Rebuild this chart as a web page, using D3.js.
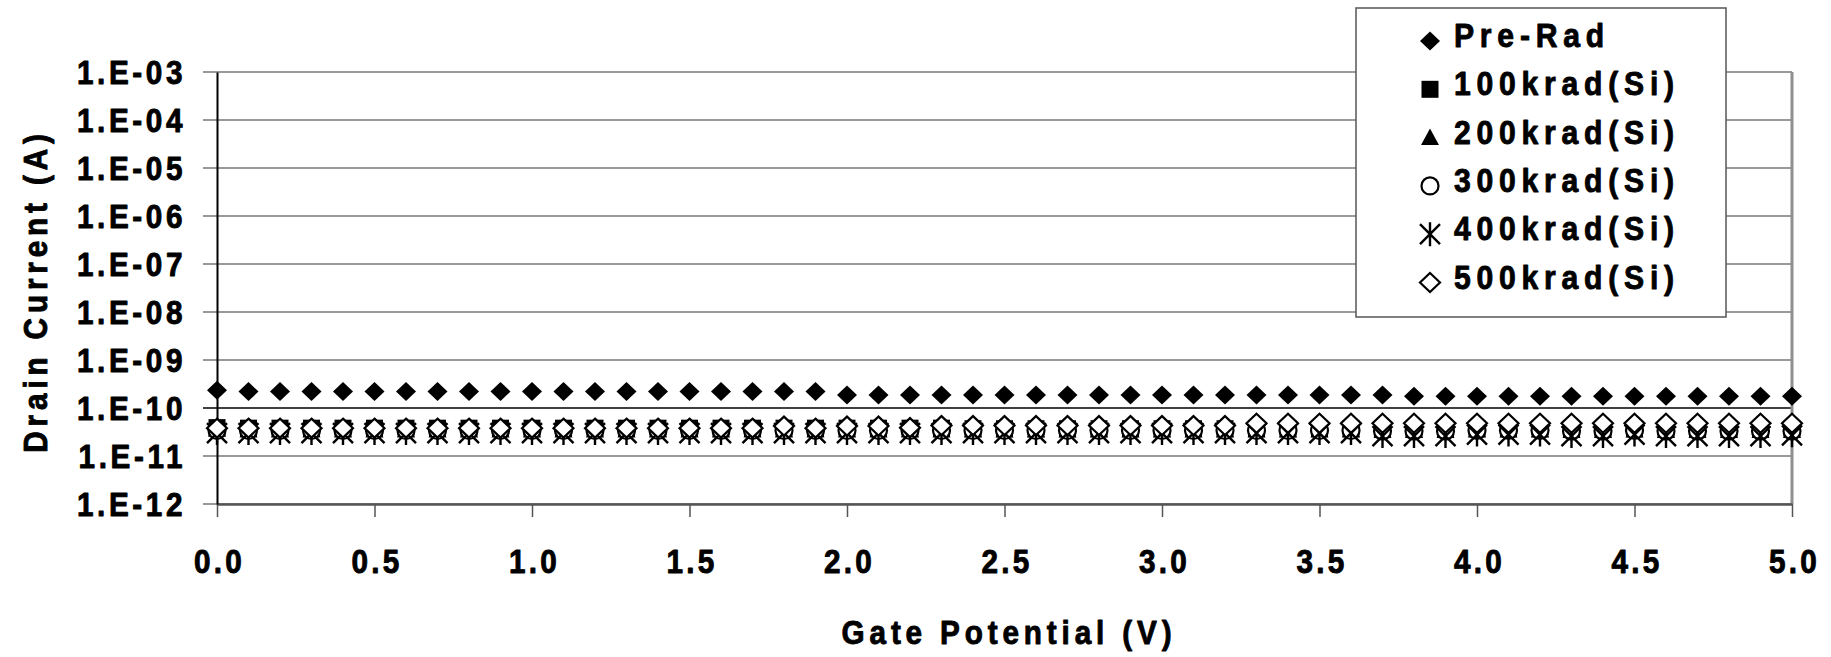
<!DOCTYPE html>
<html>
<head>
<meta charset="utf-8">
<script src="https://cdn.jsdelivr.net/npm/d3@7"></script>
<style>
  body { margin: 0; background: #fff; }
  svg { display: block; font-family: "Liberation Sans", Arial, sans-serif; font-weight: bold; }
  svg text { fill: #000; stroke: #000; stroke-width: 0.9px; stroke-linejoin: round; }
</style>
</head>
<body>
<svg id="chart" width="1831" height="657"></svg>
<script>
// gate voltage sweep (V)
const gateV = [0.0, 0.1, 0.2, 0.3, 0.4, 0.5, 0.6, 0.7, 0.8, 0.9,
  1.0, 1.1, 1.2, 1.3, 1.4, 1.5, 1.6, 1.7, 1.8, 1.9,
  2.0, 2.1, 2.2, 2.3, 2.4, 2.5, 2.6, 2.7, 2.8, 2.9,
  3.0, 3.1, 3.2, 3.3, 3.4, 3.5, 3.6, 3.7, 3.8, 3.9,
  4.0, 4.1, 4.2, 4.3, 4.4, 4.5, 4.6, 4.7, 4.8, 4.9, 5.0];

// drain current (A) per dose
const preRad = [2.35e-10,
  2.2e-10, 2.2e-10, 2.2e-10, 2.2e-10, 2.2e-10, 2.2e-10, 2.2e-10, 2.2e-10, 2.2e-10,
  2.2e-10, 2.2e-10, 2.2e-10, 2.2e-10, 2.2e-10, 2.2e-10, 2.2e-10, 2.2e-10, 2.2e-10, 2.2e-10,
  1.87e-10, 1.87e-10, 1.87e-10, 1.87e-10, 1.87e-10, 1.87e-10, 1.87e-10, 1.87e-10, 1.87e-10, 1.87e-10,
  1.87e-10, 1.87e-10, 1.87e-10, 1.87e-10, 1.87e-10, 1.87e-10, 1.87e-10, 1.87e-10,
  1.75e-10, 1.75e-10, 1.75e-10, 1.75e-10, 1.75e-10, 1.75e-10, 1.75e-10, 1.75e-10, 1.75e-10, 1.75e-10,
  1.75e-10, 1.75e-10, 1.75e-10];
const krad100 = [3.9e-11, 3.8e-11, 3.8e-11, 3.8e-11, 3.8e-11, 3.8e-11, 3.8e-11, 3.8e-11, 3.8e-11, 3.8e-11,
  3.8e-11, 3.8e-11, 3.8e-11, 3.8e-11, 3.8e-11, 3.8e-11, 3.8e-11, 3.8e-11, 3.8e-11, 3.8e-11,
  3.8e-11, 3.8e-11, 3.8e-11, 3.8e-11, 3.7e-11, 3.7e-11, 3.7e-11, 3.7e-11, 3.7e-11, 3.7e-11,
  3.7e-11, 3.7e-11, 3.7e-11, 3.7e-11, 3.7e-11, 3.7e-11, 3.7e-11, 3.6e-11, 3.6e-11, 3.6e-11,
  3.7e-11, 3.7e-11, 3.7e-11, 3.6e-11, 3.6e-11, 3.7e-11, 3.6e-11, 3.6e-11, 3.6e-11, 3.6e-11, 3.6e-11];
const krad200 = [3.6e-11, 3.5e-11, 3.5e-11, 3.5e-11, 3.5e-11, 3.5e-11, 3.5e-11, 3.5e-11, 3.5e-11, 3.5e-11,
  3.5e-11, 3.5e-11, 3.5e-11, 3.5e-11, 3.5e-11, 3.5e-11, 3.5e-11, 3.5e-11, 3.5e-11, 3.5e-11,
  3.5e-11, 3.5e-11, 3.5e-11, 3.5e-11, 3.5e-11, 3.5e-11, 3.5e-11, 3.5e-11, 3.5e-11, 3.5e-11,
  3.5e-11, 3.5e-11, 3.5e-11, 3.5e-11, 3.5e-11, 3.5e-11, 3.5e-11, 3.4e-11, 3.4e-11, 3.4e-11,
  3.5e-11, 3.5e-11, 3.5e-11, 3.4e-11, 3.4e-11, 3.5e-11, 3.4e-11, 3.4e-11, 3.4e-11, 3.4e-11, 3.4e-11];
const krad300 = [3.4e-11, 3.4e-11, 3.4e-11, 3.4e-11, 3.4e-11, 3.4e-11, 3.4e-11, 3.4e-11, 3.4e-11, 3.4e-11,
  3.4e-11, 3.4e-11, 3.4e-11, 3.4e-11, 3.4e-11, 3.4e-11, 3.4e-11, 3.4e-11, 3.4e-11, 3.4e-11,
  3.4e-11, 3.4e-11, 3.4e-11, 3.4e-11, 3.4e-11, 3.4e-11, 3.4e-11, 3.4e-11, 3.4e-11, 3.4e-11,
  3.4e-11, 3.4e-11, 3.4e-11, 3.4e-11, 3.4e-11, 3.4e-11, 3.4e-11, 3.3e-11, 3.3e-11, 3.3e-11,
  3.4e-11, 3.4e-11, 3.4e-11, 3.3e-11, 3.3e-11, 3.4e-11, 3.3e-11, 3.3e-11, 3.3e-11, 3.3e-11, 3.3e-11];
const krad400 = [3.0e-11, 3.0e-11, 3.0e-11, 3.0e-11, 3.0e-11, 3.0e-11, 3.0e-11, 3.0e-11, 3.0e-11, 3.0e-11,
  3.0e-11, 3.0e-11, 3.0e-11, 3.0e-11, 3.0e-11, 3.0e-11, 3.0e-11, 3.0e-11, 3.0e-11, 3.0e-11,
  3.0e-11, 3.0e-11, 3.0e-11, 3.0e-11, 3.0e-11, 3.0e-11, 3.0e-11, 3.0e-11, 3.0e-11, 3.0e-11,
  3.0e-11, 3.0e-11, 3.0e-11, 3.0e-11, 3.0e-11, 3.0e-11, 3.0e-11, 2.6e-11, 2.6e-11, 2.6e-11,
  2.8e-11, 2.8e-11, 2.8e-11, 2.6e-11, 2.6e-11, 2.8e-11, 2.6e-11, 2.6e-11, 2.6e-11, 2.6e-11, 2.7e-11];
const krad500 = [3.8e-11, 3.8e-11, 3.8e-11, 3.8e-11, 3.8e-11, 3.8e-11, 3.8e-11, 3.8e-11, 3.8e-11, 3.8e-11,
  3.8e-11, 3.8e-11, 3.8e-11, 3.8e-11, 3.8e-11, 3.8e-11, 3.8e-11, 3.8e-11, 4.2e-11, 3.8e-11,
  4.2e-11, 4.2e-11, 3.9e-11, 4.3e-11, 4.3e-11, 4.3e-11, 4.3e-11, 4.3e-11, 4.3e-11, 4.3e-11,
  4.3e-11, 4.3e-11, 4.3e-11, 4.8e-11, 4.8e-11, 4.8e-11, 4.8e-11, 4.8e-11, 4.8e-11, 4.8e-11,
  4.8e-11, 4.8e-11, 4.8e-11, 4.8e-11, 4.8e-11, 4.8e-11, 4.8e-11, 4.8e-11, 4.8e-11, 4.8e-11, 4.8e-11];

const seriesNames = ['Pre-Rad', '100krad(Si)', '200krad(Si)', '300krad(Si)', '400krad(Si)', '500krad(Si)'];
const seriesValues = [preRad, krad100, krad200, krad300, krad400, krad500];
const seriesMarkers = ['diamond', 'square', 'triangle', 'circle', 'star', 'diamondOpen'];

const yTicks = [1e-3, 1e-4, 1e-5, 1e-6, 1e-7, 1e-8, 1e-9, 1e-10, 1e-11, 1e-12];
const xTicks = [0, 0.5, 1.0, 1.5, 2.0, 2.5, 3.0, 3.5, 4.0, 4.5, 5.0];

const svg = d3.select('#chart');
const plotL = 217, plotR = 1792, plotT = 72, plotB = 504;
const squeeze = 0.9; // condensed look of the original lettering

const x = d3.scaleLinear().domain([0, 5]).range([plotL, plotR]);
const y = d3.scaleLog().domain([1e-12, 1e-3]).range([plotB, plotT]);

// gridlines
svg.append('g')
  .selectAll('line')
  .data(yTicks)
  .enter().append('line')
  .attr('x1', plotL - 14).attr('x2', plotR)
  .attr('y1', function(d) { return y(d); })
  .attr('y2', function(d) { return y(d); })
  .attr('stroke', function(d) { return d === 1e-10 ? '#000' : '#777'; })
  .attr('stroke-width', function(d) { return d === 1e-10 ? 1.6 : 1.4; });

// right border
svg.append('line')
  .attr('x1', plotR).attr('x2', plotR).attr('y1', plotT).attr('y2', plotB)
  .attr('stroke', '#909090').attr('stroke-width', 3);

// x axis
const xAxis = svg.append('g')
  .attr('transform', 'translate(0,' + plotB + ')')
  .call(d3.axisBottom(x).tickValues(xTicks).tickSize(13).tickSizeOuter(0)
    .tickFormat(d3.format('.1f')));
xAxis.select('.domain').attr('stroke', '#555').attr('stroke-width', 2.5);
xAxis.selectAll('.tick line').attr('stroke', '#555').attr('stroke-width', 1.5);
xAxis.selectAll('.tick text')
  .attr('y', 0).attr('dy', 0)
  .attr('transform', 'translate(2,69) scale(' + squeeze + ',1)')
  .style('font-size', '33px').style('letter-spacing', '3.6px');

// y axis
const yAxis = svg.append('g')
  .attr('transform', 'translate(' + plotL + ',0)')
  .call(d3.axisLeft(y).tickValues(yTicks).tickSize(0).tickSizeOuter(0)
    .tickFormat(function(d) { return '1.E-' + d3.format('02d')(Math.round(-Math.log10(d))); }));
yAxis.select('.domain').attr('stroke', '#000').attr('stroke-width', 2);
yAxis.selectAll('.tick text')
  .attr('x', 0).attr('dy', '0.36em')
  .attr('transform', 'translate(-31,0) scale(' + squeeze + ',1)')
  .style('font-size', '33px').style('letter-spacing', '4px');

// marker shapes
function markerPath(type) {
  if (type === 'diamond' || type === 'diamondOpen') {
    return 'M0,-9.5L10,0L0,9.5L-10,0Z';
  }
  if (type === 'square') return 'M-8.5,-8.5H8.5V8.5H-8.5Z';
  if (type === 'triangle') return 'M0,-9L9,7.5L-9,7.5Z';
  if (type === 'circle') return 'M8.5,0A8.5,8.5 0 1,1 -8.5,0A8.5,8.5 0 1,1 8.5,0Z';
  if (type === 'star') return 'M0,-12V12M-10,-10L10,10M10,-10L-10,10';
  return '';
}
function styleMarker(sel, type) {
  const open = type === 'circle' || type === 'diamondOpen';
  if (type === 'star') {
    sel.attr('fill', 'none').attr('stroke', '#000').attr('stroke-width', 2.4);
  } else if (open) {
    sel.attr('fill', '#fff').attr('stroke', '#000').attr('stroke-width', 2.2);
  } else {
    sel.attr('fill', '#000').attr('stroke', 'none');
  }
}

// data markers
seriesValues.forEach(function(vals, si) {
  const type = seriesMarkers[si];
  const g = svg.append('g').attr('class', 'series-' + si);
  const m = g.selectAll('path')
    .data(vals)
    .enter().append('path')
    .attr('transform', function(d, i) { return 'translate(' + x(gateV[i]) + ',' + y(d) + ')'; })
    .attr('d', markerPath(type));
  styleMarker(m, type);
});

// legend
const legend = svg.append('g');
legend.append('rect')
  .attr('x', 1356).attr('y', 8).attr('width', 370).attr('height', 309)
  .attr('fill', '#fff').attr('stroke', '#555').attr('stroke-width', 1.5);
const rows = legend.selectAll('.row')
  .data(seriesNames)
  .enter().append('g')
  .attr('class', 'row')
  .attr('transform', function(d, i) { return 'translate(0,' + (47 + i * 48.3) + ')'; });
rows.append('path')
  .attr('transform', 'translate(1430,-6)')
  .each(function(d, i) {
    const p = d3.select(this).attr('d', markerPath(seriesMarkers[i]));
    styleMarker(p, seriesMarkers[i]);
  });
rows.append('text')
  .attr('transform', 'translate(1454,0) scale(' + squeeze + ',1)')
  .style('font-size', '33.5px').style('letter-spacing', '6.4px')
  .text(function(d) { return d; });

// axis titles
svg.append('text')
  .attr('transform', 'translate(1009,644) scale(' + squeeze + ',1)')
  .attr('text-anchor', 'middle')
  .style('font-size', '33px').style('letter-spacing', '5.4px')
  .text('Gate Potential (V)');
svg.append('text')
  .attr('transform', 'translate(47,291) rotate(-90) scale(' + squeeze + ',1)')
  .attr('text-anchor', 'middle')
  .style('font-size', '33px').style('letter-spacing', '5.4px')
  .text('Drain Current (A)');
</script>
</body>
</html>
